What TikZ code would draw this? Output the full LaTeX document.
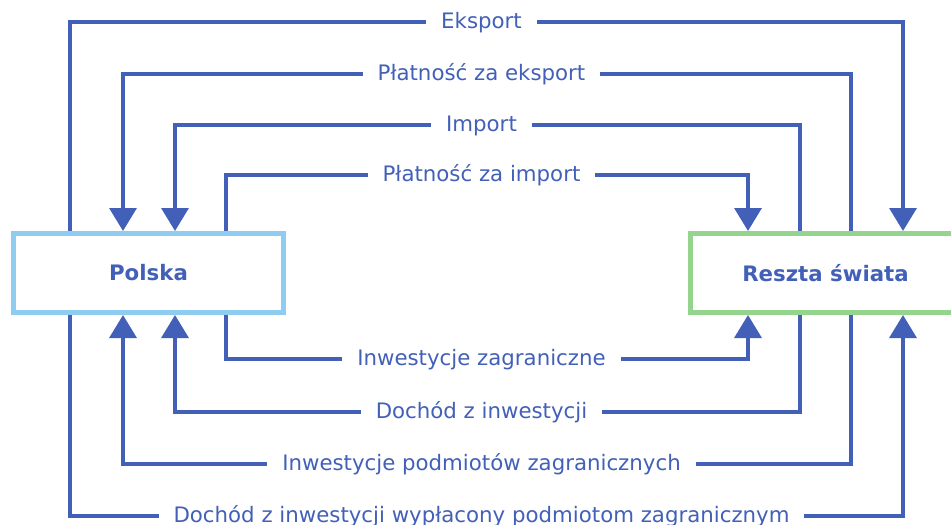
\documentclass[tikz,border=0pt]{standalone}
\usepackage{fontspec}
\setmainfont{DejaVu Sans}
\usetikzlibrary{arrows.meta}
\definecolor{flowblue}{RGB}{66,96,184}
\definecolor{plblue}{RGB}{142,204,240}
\definecolor{rwgreen}{RGB}{148,212,140}
\begin{document}
\begin{tikzpicture}[x=1pt,y=-1pt,
  flow/.style={draw=flowblue,line width=3.4pt},
  flowarrow/.style={flow,-{Triangle[width=27pt,length=23pt]}},
  lbl/.style={fill=white,text=flowblue,font=\fontsize{21.3}{25}\selectfont,inner xsep=15pt,inner ysep=2pt,anchor=base},
  box/.style={draw,fill=white,line width=5pt,minimum width=270pt,minimum height=79pt,text=flowblue,font=\bfseries\fontsize{21.3}{25}\selectfont}]
\clip (0,0) rectangle (951,525);
\node[box,draw=plblue] (P) at (148.5,273) {Polska};
\node[box,draw=rwgreen] (R) at (825.5,273) {Reszta świata};
% corners
\coordinate (a1) at (70,22);   \coordinate (a2) at (903,22);
\coordinate (b1) at (851,74);  \coordinate (b2) at (123,74);
\coordinate (c1) at (800,125); \coordinate (c2) at (175,125);
\coordinate (d1) at (226,175); \coordinate (d2) at (748,175);
\coordinate (e1) at (226,359); \coordinate (e2) at (748,359);
\coordinate (f1) at (800,412); \coordinate (f2) at (175,412);
\coordinate (g1) at (851,464); \coordinate (g2) at (123,464);
\coordinate (h1) at (70,516);  \coordinate (h2) at (903,516);
\draw[flowarrow] (P.north -| a1) -- (a1) -- (a2) -- (R.north -| a2);
\draw[flowarrow] (R.north -| b1) -- (b1) -- (b2) -- (P.north -| b2);
\draw[flowarrow] (R.north -| c1) -- (c1) -- (c2) -- (P.north -| c2);
\draw[flowarrow] (P.north -| d1) -- (d1) -- (d2) -- (R.north -| d2);
\draw[flowarrow] (P.south -| e1) -- (e1) -- (e2) -- (R.south -| e2);
\draw[flowarrow] (R.south -| f1) -- (f1) -- (f2) -- (P.south -| f2);
\draw[flowarrow] (R.south -| g1) -- (g1) -- (g2) -- (P.south -| g2);
\draw[flowarrow] (P.south -| h1) -- (h1) -- (h2) -- (R.south -| h2);
% labels
\node[lbl] (la) at (481.5,28) {Eksport};
\node[lbl] (lb) at (481.5,80) {Płatność za eksport};
\node[lbl] (lc) at (481.5,131) {Import};
\node[lbl] (ld) at (481.5,181) {Płatność za import};
\node[lbl] (le) at (481.5,365) {Inwestycje zagraniczne};
\node[lbl] (lf) at (481.5,418) {Dochód z inwestycji};
\node[lbl] (lg) at (481.5,470) {Inwestycje podmiotów zagranicznych};
\node[lbl] (lh) at (481.5,522) {Dochód z inwestycji wypłacony podmiotom zagranicznym};
\end{tikzpicture}
\end{document}
